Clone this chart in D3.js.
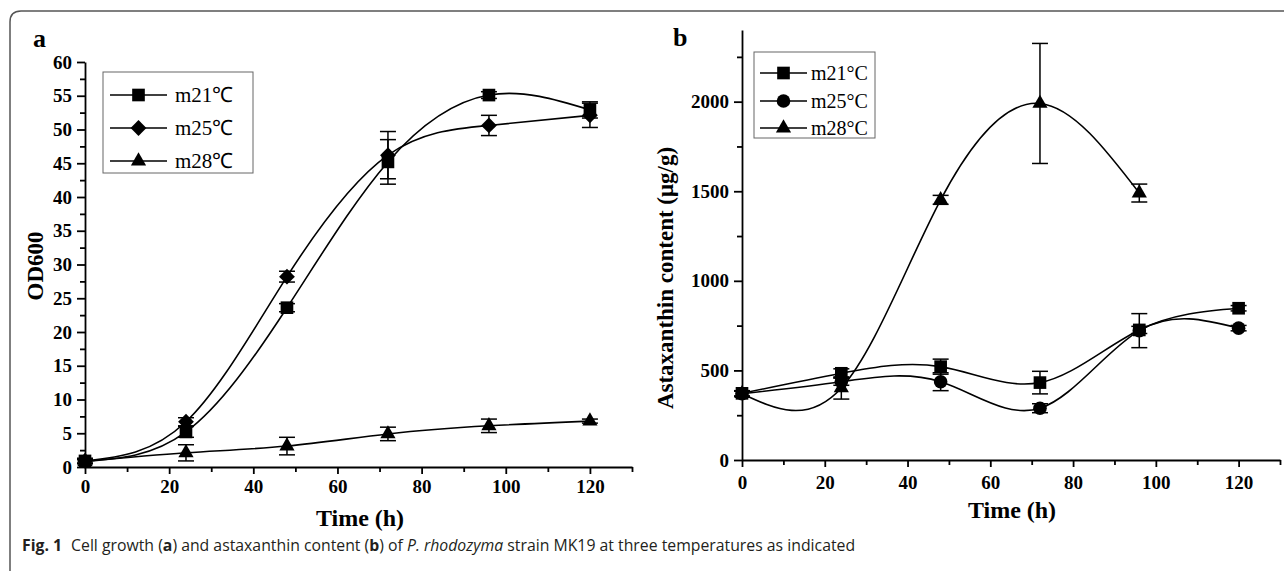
<!DOCTYPE html>
<html>
<head>
<meta charset="utf-8">
<script src="https://cdn.jsdelivr.net/npm/d3@7"></script>
<style>
  body { margin: 0; background: #fff; }
  svg { display: block; }
</style>
</head>
<body>
<svg id="chart" width="1284" height="571"></svg>
<script>
// sampling times (h)
var timesA = [0, 24, 48, 72, 96, 120];
var timesB = [0, 24, 48, 72, 96, 120];
var timesB28 = [0, 24, 48, 72, 96];

// panel a: OD600
var odM21 = [0.9, 5.2, 23.6, 45.2, 55.1, 52.9];
var odM21Err = [0.4, 0.8, 0.6, 3.3, 0.5, 1.2];
var odM25 = [0.9, 6.7, 28.2, 46.2, 50.6, 52.1];
var odM25Err = [0.3, 0.6, 0.8, 3.5, 1.5, 1.8];
var odM28 = [0.8, 2.1, 3.1, 4.9, 6.1, 6.8];
var odM28Err = [0.3, 1.2, 1.3, 1.0, 1.0, 0.3];

// panel b: astaxanthin content (ug/g)
var astM21 = [372, 484, 521, 432, 726, 847];
var astM21Err = [15, 25, 42, 63, 20, 15];
var astM25 = [370, 437, 437, 289, 722, 736];
var astM25Err = [15, 20, 50, 25, 95, 15];
var astM28 = [370, 402, 1452, 1990, 1490];
var astM28Err = [15, 62, 25, 335, 50];

var ticksA = [0, 5, 10, 15, 20, 25, 30, 35, 40, 45, 50, 55, 60];
var ticksB = [0, 500, 1000, 1500, 2000];
var ticksX = [0, 20, 40, 60, 80, 100, 120];

var serif = "Liberation Serif, Times New Roman, serif";

var svg = d3.select("#chart");
svg.append("rect").attr("width", 1284).attr("height", 571).attr("fill", "#fff");

// figure frame (rounded top-left corner)
svg.append("path")
  .attr("d", "M10,571 L10,22 Q10,11 21,11 L1284,11")
  .attr("fill", "none")
  .attr("stroke", "#555")
  .attr("stroke-width", 1.5);

var symbolPath = {
  square: d3.symbol().type(d3.symbolSquare).size(160)(),
  diamond: d3.symbol().type(d3.symbolSquare).size(125)(),
  triangle: d3.symbol().type(d3.symbolTriangle).size(100)(),
  circle: d3.symbol().type(d3.symbolCircle).size(145)()
};

function drawMarker(g, kind, x, y) {
  g.append("path")
    .attr("d", symbolPath[kind])
    .attr("transform", "translate(" + x + "," + y + ")" + (kind == "diamond" ? " rotate(45)" : ""))
    .attr("fill", "#000");
}

function styleAxis(sel) {
  sel.selectAll("path, line").attr("stroke", "#000").attr("stroke-width", 1.8);
  sel.selectAll("text")
    .attr("fill", "#000")
    .style("font-family", serif)
    .style("font-weight", "bold")
    .style("font-size", "19px");
}

function drawPanel(cfg) {
  var g = svg.append("g");

  var x = d3.scaleLinear().domain([0, 130]).range(cfg.xRange);
  var y = d3.scaleLinear().domain(cfg.yDomain).range(cfg.yRange);

  // minor ticks
  var xMinor = g.append("g")
    .attr("transform", "translate(0," + cfg.yRange[0] + ")")
    .call(d3.axisBottom(x).tickValues([10, 30, 50, 70, 90, 110, 130]).tickSize(5).tickFormat(""));
  xMinor.select(".domain").remove();
  styleAxis(xMinor);
  var yMinor = g.append("g")
    .attr("transform", "translate(" + cfg.xRange[0] + ",0)")
    .call(d3.axisLeft(y).tickValues(cfg.yMinor).tickSize(5).tickFormat(""));
  yMinor.select(".domain").remove();
  styleAxis(yMinor);

  // major axes
  var xAxis = g.append("g")
    .attr("transform", "translate(0," + cfg.yRange[0] + ")")
    .call(d3.axisBottom(x).tickValues(ticksX).tickSize(7).tickSizeOuter(0).tickPadding(cfg.xPad).tickFormat(d3.format("d")));
  styleAxis(xAxis);
  var yAxis = g.append("g")
    .attr("transform", "translate(" + cfg.xRange[0] + ",0)")
    .call(d3.axisLeft(y).tickValues(cfg.yTicks).tickSize(8).tickSizeOuter(0).tickPadding(5).tickFormat(d3.format("d")));
  styleAxis(yAxis);

  var line = d3.line()
    .x(function(d) { return x(d.t); })
    .y(function(d) { return y(d.v); })
    .curve(d3.curveNatural);

  cfg.series.forEach(function(s) {
    var pts = s.t.map(function(t, i) { return { t: t, v: s.v[i], e: s.e[i] }; });

    // error bars
    pts.forEach(function(p) {
      var cx = x(p.t), y1 = y(p.v + p.e), y2 = y(p.v - p.e);
      g.append("line").attr("x1", cx).attr("x2", cx).attr("y1", y1).attr("y2", y2)
        .attr("stroke", "#000").attr("stroke-width", 1.5);
      [y1, y2].forEach(function(yy) {
        g.append("line").attr("x1", cx - 8).attr("x2", cx + 8).attr("y1", yy).attr("y2", yy)
          .attr("stroke", "#000").attr("stroke-width", 1.5);
      });
    });

    g.append("path")
      .datum(pts)
      .attr("d", line)
      .attr("fill", "none")
      .attr("stroke", "#000")
      .attr("stroke-width", 1.6);

    pts.forEach(function(p) {
      drawMarker(g, s.kind, x(p.t), y(p.v));
    });
  });

  // legend
  var L = cfg.legend;
  g.append("rect")
    .attr("x", L.x).attr("y", L.y).attr("width", L.w).attr("height", L.h)
    .attr("fill", "#fff").attr("stroke", "#666").attr("stroke-width", 1);
  cfg.series.forEach(function(s, i) {
    var ry = L.rows[i];
    g.append("line").attr("x1", L.lx1).attr("x2", L.lx2).attr("y1", ry).attr("y2", ry)
      .attr("stroke", "#000").attr("stroke-width", 1.6);
    drawMarker(g, s.kind, (L.lx1 + L.lx2) / 2, ry);
    g.append("text")
      .attr("x", L.tx).attr("y", ry).attr("dy", "0.35em")
      .attr("font-family", serif)
      .attr("font-size", L.fs)
      .text(s.name);
  });

  // titles
  g.append("text")
    .attr("x", cfg.xTitle[0]).attr("y", cfg.xTitle[1])
    .attr("text-anchor", "middle")
    .attr("font-family", serif).attr("font-weight", "bold").attr("font-size", 24)
    .text("Time (h)");
  g.append("text")
    .attr("transform", "translate(" + cfg.yTitle[0] + "," + cfg.yTitle[1] + ") rotate(-90)")
    .attr("text-anchor", "middle").attr("dy", "0.35em")
    .attr("font-family", serif).attr("font-weight", "bold").attr("font-size", 23)
    .text(cfg.yLabel);
  g.append("text")
    .attr("x", cfg.tag[0]).attr("y", cfg.tag[1])
    .attr("font-family", serif).attr("font-weight", "bold").attr("font-size", 26)
    .text(cfg.tagText);
}

drawPanel({
  xRange: [85, 632],
  yDomain: [0, 60],
  yRange: [467, 62],
  yTicks: ticksA,
  yMinor: d3.range(2.5, 60, 5),
  xPad: 6,
  series: [
    { name: "m21\u2103", kind: "square", t: timesA, v: odM21, e: odM21Err },
    { name: "m25\u2103", kind: "diamond", t: timesA, v: odM25, e: odM25Err },
    { name: "m28\u2103", kind: "triangle", t: timesA, v: odM28, e: odM28Err }
  ],
  legend: { x: 103, y: 72, w: 150, h: 101, rows: [95, 128, 161], lx1: 110, lx2: 167, tx: 175, fs: 21 },
  xTitle: [360, 526],
  yTitle: [35, 266],
  yLabel: "OD600",
  tag: [33, 47],
  tagText: "a"
});

drawPanel({
  xRange: [742, 1280],
  yDomain: [0, 2400],
  yRange: [460, 30],
  yTicks: ticksB,
  yMinor: [250, 750, 1250, 1750, 2250],
  xPad: 9,
  series: [
    { name: "m21\u00b0C", kind: "square", t: timesB, v: astM21, e: astM21Err },
    { name: "m25\u00b0C", kind: "circle", t: timesB, v: astM25, e: astM25Err },
    { name: "m28\u00b0C", kind: "triangle", t: timesB28, v: astM28, e: astM28Err }
  ],
  legend: { x: 754, y: 52, w: 121, h: 86, rows: [73, 101, 128], lx1: 760, lx2: 807, tx: 811, fs: 20 },
  xTitle: [1012, 518],
  yTitle: [665, 278],
  yLabel: "Astaxanthin content (\u03bcg/g)",
  tag: [673, 46],
  tagText: "b"
});

// caption
var cap = svg.append("text")
  .attr("x", 22).attr("y", 551)
  .attr("font-family", "Open Sans, Noto Sans, sans-serif")
  .attr("font-size", 15.8)
  .attr("fill", "#231f20");
cap.append("tspan").attr("font-weight", "bold").text("Fig. 1");
cap.append("tspan").attr("dx", 9).text("Cell growth (");
cap.append("tspan").attr("font-weight", "bold").text("a");
cap.append("tspan").text(") and astaxanthin content (");
cap.append("tspan").attr("font-weight", "bold").text("b");
cap.append("tspan").text(") of ");
cap.append("tspan").attr("font-style", "italic").text("P. rhodozyma");
cap.append("tspan").text(" strain MK19 at three temperatures as indicated");
</script>
</body>
</html>
